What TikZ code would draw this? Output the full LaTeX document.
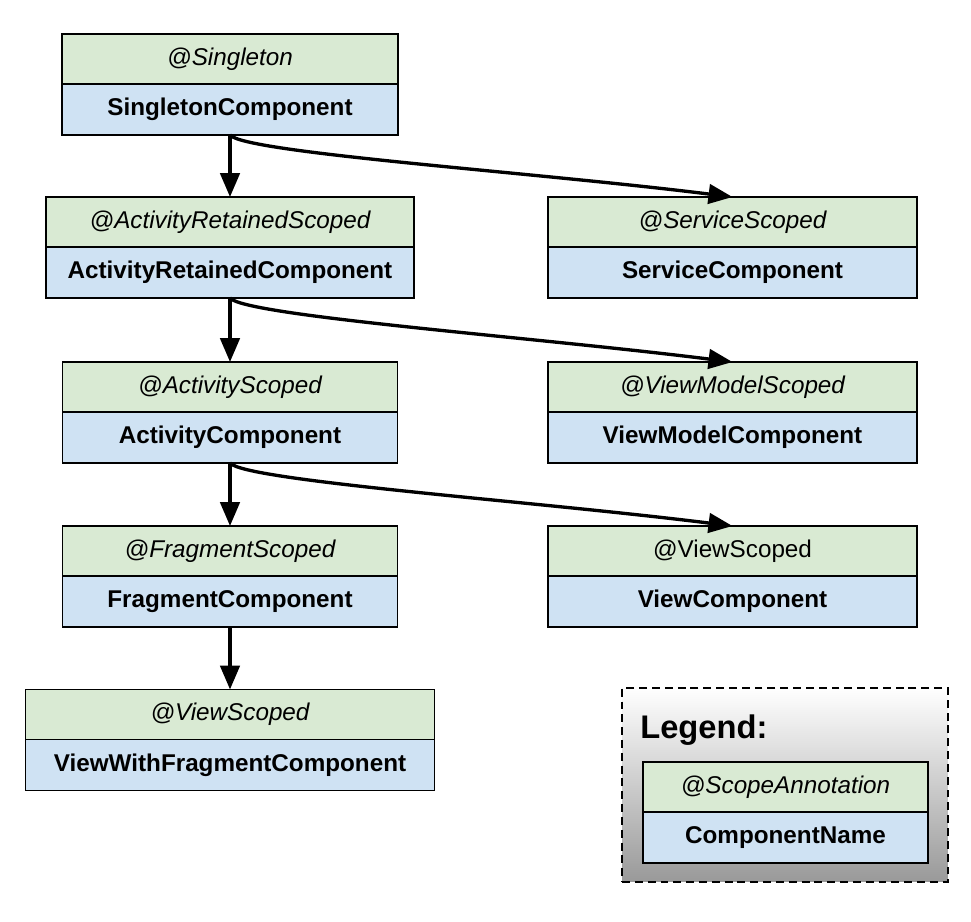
\documentclass[tikz,border=0pt]{standalone}
\usepackage{fontspec}
\setmainfont{Liberation Sans}
\usetikzlibrary{arrows.meta,positioning}
\definecolor{scopegreen}{HTML}{D9EAD3}
\definecolor{compblue}{HTML}{CFE2F3}
\newcommand{\boxfont}{\fontsize{13.8}{16}\selectfont}

\begin{document}
\begin{tikzpicture}[x=0.02cm,y=-0.02cm,
  scopebox/.style={draw,line width=0.9pt,fill=scopegreen,minimum height=1cm,inner sep=0pt,outer sep=0pt,font=\boxfont\itshape},
  compbox/.style={draw,line width=0.9pt,fill=compblue,minimum height=1.02cm,inner sep=0pt,outer sep=0pt,font=\boxfont\bfseries},
  link/.style={-{Triangle[length=4.8mm,width=3.9mm]},line width=1.9pt},
  legendbox/.style={draw,line width=0.8pt,dash pattern=on 4.5pt off 2.8pt,top color=white,bottom color=black!40}]
  \useasboundingbox (0,0) rectangle (971,922);
  % left column
  \node[scopebox,minimum width=6.72cm] (sing) at (230,59) {@Singleton};
  \node[compbox,minimum width=6.72cm,below=0pt of sing] (singcomp) {SingletonComponent};
  \node[scopebox,minimum width=7.36cm] (actret) at (230,222) {@ActivityRetainedScoped};
  \node[compbox,minimum width=7.36cm,below=0pt of actret] (actretcomp) {ActivityRetainedComponent};
  \node[scopebox,minimum width=6.7cm] (act) at (230,387) {@ActivityScoped};
  \node[compbox,minimum width=6.7cm,below=0pt of act] (actcomp) {ActivityComponent};
  \node[scopebox,minimum width=6.7cm] (frag) at (230,551) {@FragmentScoped};
  \node[compbox,minimum width=6.7cm,below=0pt of frag] (fragcomp) {FragmentComponent};
  \node[scopebox,minimum width=8.18cm] (viewfrag) at (230,714.5) {@ViewScoped};
  \node[compbox,minimum width=8.18cm,below=0pt of viewfrag] (viewfragcomp) {ViewWithFragmentComponent};
  % right column
  \node[scopebox,minimum width=7.38cm] (service) at (732.5,222) {@ServiceScoped};
  \node[compbox,minimum width=7.38cm,below=0pt of service] (servicecomp) {ServiceComponent};
  \node[scopebox,minimum width=7.38cm] (vm) at (732.5,387) {@ViewModelScoped};
  \node[compbox,minimum width=7.38cm,below=0pt of vm] (vmcomp) {ViewModelComponent};
  \node[scopebox,minimum width=7.38cm,font=\boxfont] (view) at (732.5,551) {@ViewScoped};
  \node[compbox,minimum width=7.38cm,below=0pt of view] (viewcomp) {ViewComponent};
  % arrows
  \draw[link] (singcomp.south) -- (actret.north);
  \draw[link] (singcomp.south) .. controls +(15,18) and +(-200,-25) .. (service.north);
  \draw[link] (actretcomp.south) -- (act.north);
  \draw[link] (actretcomp.south) .. controls +(15,18) and +(-200,-25) .. (vm.north);
  \draw[link] (actcomp.south) -- (frag.north);
  \draw[link] (actcomp.south) .. controls +(15,18) and +(-200,-25) .. (view.north);
  \draw[link] (fragcomp.south) -- (viewfrag.north);
  % legend
  \node[legendbox,minimum width=6.52cm,minimum height=3.88cm] (legend) at (785,785) {};
  \node[anchor=base west,inner sep=0pt,font=\fontsize{18.6}{20}\selectfont\bfseries] (legendtitle) at (640,738) {Legend:};
  \node[scopebox,minimum width=5.7cm] (legscope) at (785.5,787) {@ScopeAnnotation};
  \node[compbox,minimum width=5.7cm,below=0pt of legscope] (legcomp) {ComponentName};
\end{tikzpicture}
\end{document}
